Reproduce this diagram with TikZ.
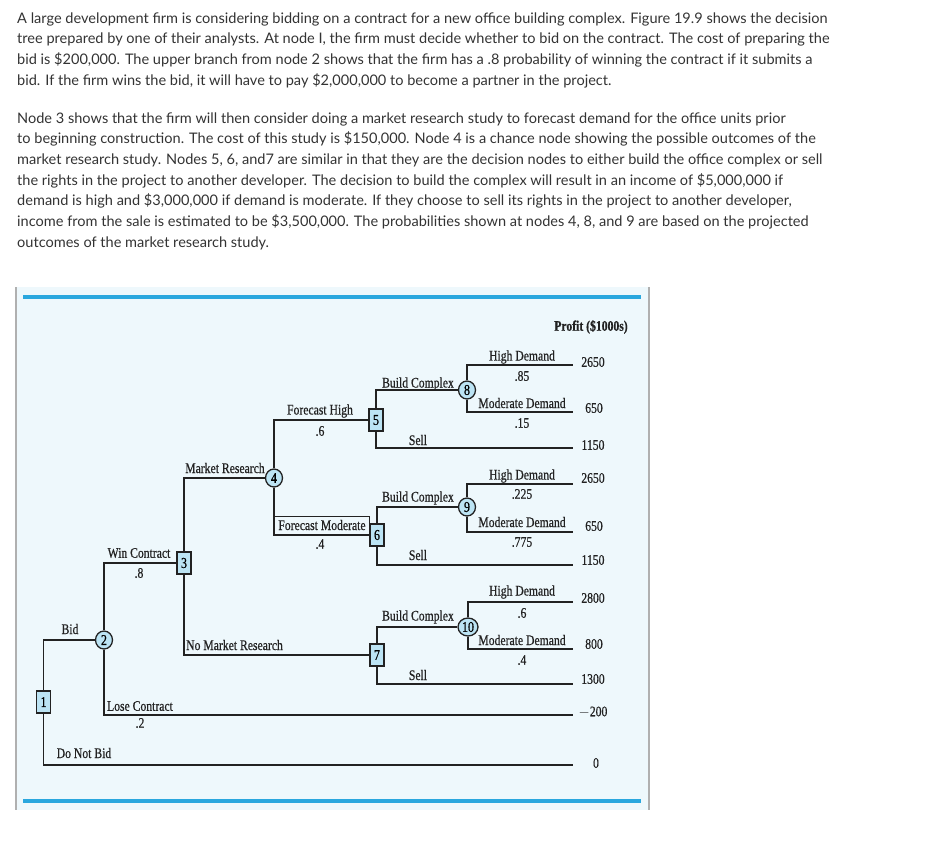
\documentclass[tikz,border=0pt]{standalone}
\usepackage{fontspec}
\setmainfont{Lato}
\newfontfamily\dfont[FakeStretch=0.8,FakeBold=0.6]{Liberation Serif}
\usetikzlibrary{shapes.geometric}
\definecolor{textgray}{HTML}{333333}
\definecolor{bgblue}{HTML}{EEF8FC}
\definecolor{barblue}{HTML}{2AA7DE}
\definecolor{nodeblue}{HTML}{BCE4F4}
\definecolor{frame}{HTML}{B0B0B0}
\definecolor{ink}{HTML}{222222}
\begin{document}
\begin{tikzpicture}[x=1pt,y=-1pt,
  txt/.style={anchor=base west, inner sep=0, text=textgray, font=\fontsize{14.55}{16}\selectfont},
  lab/.style={inner sep=0, text=ink, font=\dfont\fontsize{14.6}{16}\selectfont},
  dec/.style={draw=ink, fill=nodeblue, line width=1.3pt, minimum width=14pt, minimum height=22pt, inner sep=0, font=\dfont\fontsize{15}{15}\selectfont},
  chn/.style={draw=ink, fill=nodeblue, line width=1.3pt, ellipse, minimum width=17pt, minimum height=18pt, inner sep=0, font=\dfont\fontsize{15}{15}\selectfont},
  br/.style={line width=1.8pt, draw=ink}
]
\useasboundingbox (0,0) rectangle (945,860);
% ---------- text ----------
\node[txt] (t1) at (17,23) {A large development firm is considering bidding on a contract for a new office building complex. Figure 19.9 shows the decision};
\node[txt] (t2) at (17,43.8) {tree prepared by one of their analysts. At node I, the firm must decide whether to bid on the contract. The cost of preparing the};
\node[txt] (t3) at (17,64.6) {bid is \$200,000. The upper branch from node 2 shows that the firm has a .8 probability of winning the contract if it submits a};
\node[txt] (t4) at (17,85.4) {bid. If the firm wins the bid, it will have to pay \$2,000,000 to become a partner in the project.};
\node[txt] (t5) at (17,123) {Node 3 shows that the firm will then consider doing a market research study to forecast demand for the office units prior};
\node[txt] (t6) at (17,143.7) {to beginning construction. The cost of this study is \$150,000. Node 4 is a chance node showing the possible outcomes of the};
\node[txt] (t7) at (17,164.4) {market research study. Nodes 5, 6, and7 are similar in that they are the decision nodes to either build the office complex or sell};
\node[txt] (t8) at (17,185.1) {the rights in the project to another developer. The decision to build the complex will result in an income of \$5,000,000 if};
\node[txt] (t9) at (17,205.8) {demand is high and \$3,000,000 if demand is moderate. If they choose to sell its rights in the project to another developer,};
\node[txt] (t10) at (17,226.5) {income from the sale is estimated to be \$3,500,000. The probabilities shown at nodes 4, 8, and 9 are based on the projected};
\node[txt] (t11) at (17,247.2) {outcomes of the market research study.};
% ---------- figure frame ----------
\fill[bgblue] (17,287) rectangle (648,810);
\draw[frame, line width=1.2pt] (16,287) -- (16,810);
\draw[frame, line width=1.2pt] (649,287) -- (649,810);
\draw[barblue, line width=4.5pt] (23,297) -- (641,297);
\draw[barblue, line width=4.5pt] (23,801) -- (641,801);
\node[lab, font=\dfont\bfseries\fontsize{14.6}{16}\selectfont] (profit) at (591,327) {Profit (\$1000s)};
% ---------- nodes ----------
\node[dec] (n1) at (43.5,702) {1};
\node[chn] (n2) at (104,640) {2};
\node[dec] (n3) at (184,563) {3};
\node[chn] (n4) at (274,478) {4};
\node[dec] (n5) at (376,420) {5};
\node[dec] (n6) at (377,535) {6};
\node[dec] (n7) at (377,655) {7};
\node[chn] (n8) at (467,390) {8};
\node[chn] (n9) at (467,507) {9};
\node[chn, minimum width=20pt] (n10) at (468,627) {10};
% ---------- end points ----------
\coordinate (e8a) at (573,365);
\coordinate (e8b) at (573,412);
\coordinate (e5) at (573,448);
\coordinate (e9a) at (573,484);
\coordinate (e9b) at (573,532);
\coordinate (e6) at (573,565);
\coordinate (e10a) at (573,602);
\coordinate (e10b) at (573,649);
\coordinate (e7) at (573,684);
\coordinate (e2) at (573,715);
\coordinate (e1) at (573,765);
% ---------- branches ----------
\draw[br] (n1) |- (n2);
\draw[br] (n1) |- (e1);
\draw[br] (n2) |- (n3);
\draw[br] (n2) |- (e2);
\draw[br] (n3) |- (n4);
\draw[br] (n3) |- (n7);
\draw[br] (n4) |- (n5);
\draw[br] (n4) |- (n6);
\draw[br] (n5) |- (n8);
\draw[br] (n5) |- (e5);
\draw[br] (n6) |- (n9);
\draw[br] (n6) |- (e6);
\draw[br] (n7) |- (n10);
\draw[br] (n7) |- (e7);
\draw[br] (n8) |- (e8a);
\draw[br] (n8) |- (e8b);
\draw[br] (n9) |- (e9a);
\draw[br] (n9) |- (e9b);
\draw[br] (n10) |- (e10a);
\draw[br] (n10) |- (e10b);
\draw[ink, line width=0.7pt] (274,516) rectangle (369,535);
% ---------- branch labels ----------
\node[lab] (lbid) at (70,629) {Bid};
\node[lab] (ldnb) at (84,753) {Do Not Bid};
\node[lab] (lwin) at (139,553) {Win Contract};
\node[lab] (pwin) at (139,573) {.8};
\node[lab] (llose) at (140,706) {Lose Contract};
\node[lab] (plose) at (140,723) {.2};
\node[lab] (lmr) at (225,468) {Market Research};
\node[lab, anchor=west] (lnmr) at (186,645) {No Market Research};
\node[lab] (lfh) at (320,411) {Forecast High};
\node[lab] (pfh) at (320,431) {.6};
\node[lab] (lfm) at (322,525) {Forecast Moderate};
\node[lab] (pfm) at (320,544) {.4};
\node[lab] (lbc5) at (418,384) {Build Complex};
\node[lab] (ls5) at (418,440) {Sell};
\node[lab] (lbc6) at (418,498) {Build Complex};
\node[lab] (ls6) at (418,555) {Sell};
\node[lab] (lbc7) at (418,617) {Build Complex};
\node[lab] (ls7) at (418,675) {Sell};
\node[lab] (lh8) at (522,357) {High Demand};
\node[lab] (ph8) at (522,376) {.85};
\node[lab] (lm8) at (522,403) {Moderate Demand};
\node[lab] (pm8) at (522,423) {.15};
\node[lab] (lh9) at (522,476) {High Demand};
\node[lab] (ph9) at (522,494) {.225};
\node[lab] (lm9) at (522,522) {Moderate Demand};
\node[lab] (pm9) at (522,542) {.775};
\node[lab] (lh10) at (522,592) {High Demand};
\node[lab] (ph10) at (522,613) {.6};
\node[lab] (lm10) at (522,640) {Moderate Demand};
\node[lab] (pm10) at (522,660) {.4};
% ---------- payoffs ----------
\node[lab] (v1) at (593,362) {2650};
\node[lab] (v2) at (594,408) {650};
\node[lab] (v3) at (593,445) {1150};
\node[lab] (v4) at (593,478) {2650};
\node[lab] (v5) at (594,526) {650};
\node[lab] (v6) at (593,560) {1150};
\node[lab] (v7) at (593,598) {2800};
\node[lab] (v8) at (594,644) {800};
\node[lab] (v9) at (593,679) {1300};
\node[lab] (v10) at (593,712) {$-$200};
\node[lab] (v11) at (596,763) {0};
\end{tikzpicture}
\end{document}
